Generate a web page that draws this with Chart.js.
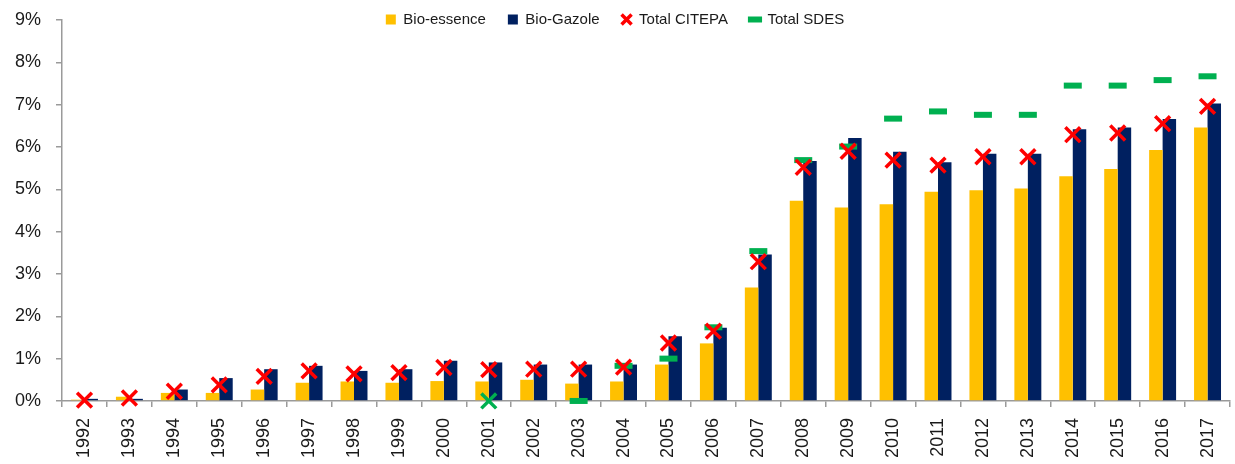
<!DOCTYPE html>
<html>
<head>
<meta charset="utf-8">
<script src="https://cdn.jsdelivr.net/npm/chart.js@4/dist/chart.umd.min.js"></script>
<style>
  html, body { margin: 0; padding: 0; background: #fff; }
  #wrap { width: 1235px; height: 464px; position: relative; }
</style>
</head>
<body>
<div id="wrap"><canvas id="chart"></canvas></div>
<script>
// Years on the x axis
const years = ['1992', '1993', '1994', '1995', '1996', '1997', '1998', '1999', '2000',
    '2001', '2002', '2003', '2004', '2005', '2006', '2007', '2008', '2009',
    '2010', '2011', '2012', '2013', '2014', '2015', '2016', '2017'];

// Shares in %
const bioEssence = [0.03, 0.10, 0.19, 0.19, 0.27, 0.43, 0.46, 0.43, 0.47,
    0.46, 0.50, 0.41, 0.46, 0.86, 1.36, 2.68, 4.73, 4.57,
    4.65, 4.94, 4.98, 5.02, 5.31, 5.48, 5.93, 6.46];
const bioGazole = [0.05, 0.05, 0.27, 0.54, 0.75, 0.83, 0.71, 0.75, 0.95,
    0.91, 0.86, 0.86, 0.86, 1.53, 1.73, 3.46, 5.67, 6.21,
    5.89, 5.64, 5.84, 5.84, 6.42, 6.46, 6.66, 7.03];
const totalCitepa = [0.02, 0.07, 0.23, 0.38, 0.58, 0.71, 0.64, 0.67, 0.79,
    0.74, 0.75, 0.75, 0.80, 1.37, 1.65, 3.29, 5.52, 5.90,
    5.69, 5.57, 5.77, 5.77, 6.29, 6.33, 6.55, 6.96];
const totalSdes = [null, null, null, null, null, null, null, null, null,
    0, null, 0, 0.83, 1.00, 1.74, 3.54, 5.69, 6.01,
    6.67, 6.84, 6.76, 6.76, 7.45, 7.45, 7.58, 7.67];

// y ticks 0..9 %
const yTicks = [0, 1, 2, 3, 4, 5, 6, 7, 8, 9];

// 2001 point of SDES is drawn as a green cross in the source
const sdesStyle = years.map(y => y === '2001' ? 'crossRot' : 'line');
const sdesRadius = years.map(y => y === '2001' ? 10.5 : 9);
const sdesWidth = years.map(y => y === '2001' ? 3.5 : 6);

// legend sits over the top of the plot, it should not push it down
const legendHeight = {
    id: 'legendHeight',
    beforeInit(chart) {
        const fit = chart.legend.fit;
        chart.legend.fit = function () {
            fit.call(this);
            this.height = 15;
        };
    },
    afterLayout(chart) {
        // move the legend box up so the labels land at y ~18 and are not clipped
        const lg = chart.legend;
        lg.top = -10;
        lg.bottom = 36;
        lg.height = 46;
    }
};

const axisGrey = '#9a9a9a';
const tickFont = { family: 'Liberation Sans', size: 18 };

new Chart(document.getElementById('chart'), {
    type: 'bar',
    data: {
        labels: years,
        datasets: [
            {
                label: 'Bio-essence',
                data: bioEssence,
                backgroundColor: '#FFC000',
                borderWidth: 0,
                pointStyle: 'rect',
                categoryPercentage: 0.6,
                barPercentage: 1,
                order: 3
            },
            {
                label: 'Bio-Gazole',
                data: bioGazole,
                backgroundColor: '#002060',
                borderWidth: 0,
                pointStyle: 'rect',
                categoryPercentage: 0.6,
                barPercentage: 1,
                order: 3
            },
            {
                type: 'line',
                label: 'Total CITEPA',
                data: totalCitepa,
                showLine: false,
                clip: false,
                pointStyle: 'crossRot',
                pointRadius: 10.5,
                pointBorderWidth: 3.5,
                pointBorderColor: '#FF0000',
                pointBackgroundColor: '#FF0000',
                borderColor: '#FF0000',
                backgroundColor: '#FF0000',
                order: 1
            },
            {
                type: 'line',
                label: 'Total SDES',
                data: totalSdes,
                showLine: false,
                clip: false,
                pointStyle: sdesStyle,
                pointRadius: sdesRadius,
                pointBorderWidth: sdesWidth,
                pointBorderColor: '#00B050',
                pointBackgroundColor: '#00B050',
                borderColor: '#00B050',
                backgroundColor: '#00B050',
                order: 2
            }
        ]
    },
    options: {
        responsive: true,
        maintainAspectRatio: false,
        animation: false,
        layout: { autoPadding: false, padding: { left: 0, right: 5, top: 0, bottom: -5 } },
        plugins: {
            tooltip: { enabled: false },
            legend: {
                position: 'top',
                labels: {
                    usePointStyle: true,
                    boxWidth: 10,
                    boxHeight: 10,
                    padding: 22,
                    color: '#1a1a1a',
                    font: { family: 'Liberation Sans', size: 15 },
                    sort: (a, b) => a.datasetIndex - b.datasetIndex
                }
            }
        },
        scales: {
            x: {
                afterFit: scale => {
                    scale.paddingLeft = 0;
                    scale.paddingRight = 0;
                },
                grid: {
                    drawOnChartArea: false,
                    drawTicks: true,
                    tickLength: 6,
                    color: axisGrey,
                    lineWidth: 1.5
                },
                border: { color: axisGrey, width: 1.5 },
                ticks: {
                    minRotation: 90,
                    maxRotation: 90,
                    autoSkip: false,
                    padding: 11,
                    color: '#1a1a1a',
                    font: tickFont
                }
            },
            y: {
                min: 0,
                max: 9,
                afterBuildTicks: axis => {
                    axis.ticks = yTicks.map(v => ({ value: v }));
                },
                afterFit: scale => {
                    scale.paddingTop = 20;
                    scale.paddingBottom = 0;
                },
                grid: {
                    drawOnChartArea: false,
                    drawTicks: true,
                    tickLength: 6,
                    color: axisGrey,
                    lineWidth: 1.5
                },
                border: { color: axisGrey, width: 1.5 },
                ticks: {
                    padding: 15,
                    color: '#1a1a1a',
                    font: tickFont,
                    callback: v => v + '%'
                }
            }
        }
    },
    plugins: [legendHeight]
});
</script>
</body>
</html>
